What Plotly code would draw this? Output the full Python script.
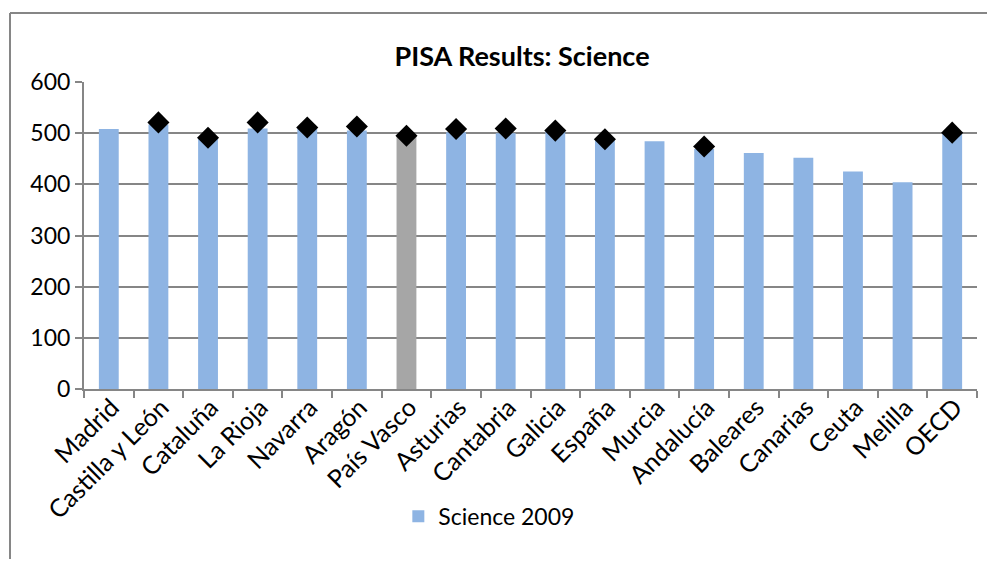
import plotly.graph_objects as go

categories = ["Madrid", "Castilla y León", "Cataluña", "La Rioja", "Navarra", "Aragón",
              "País Vasco", "Asturias", "Cantabria", "Galicia", "España", "Murcia",
              "Andalucía", "Baleares", "Canarias", "Ceuta", "Melilla", "OECD"]
science_2009 = [508, 517, 490, 509, 509, 505, 495, 502, 500, 504, 488, 484, 469, 461, 452, 425, 404, 501]
science_2006 = [None, 521, 491, 521, 511, 513, 495, 508, 509, 505, 488, None, 474, None, None, None, None, 501]
y_ticks = [0, 100, 200, 300, 400, 500, 600]

BLUE = "#8EB4E3"
GRAY = "#A6A6A6"
bar_colors = [GRAY if c == "País Vasco" else BLUE for c in categories]
FONT = "Lato"

# page body has an 8px margin: compensate so the plot area lands where the reference has it
OFF = 8
W, H = 995 - 2 * OFF, 567 - 2 * OFF
L, T, PW, PH = 84 - OFF, 82 - OFF, 893, 307

fig = go.Figure()
fig.add_trace(go.Bar(
    x=categories, y=science_2009, name="Science 2009",
    marker=dict(color=bar_colors, line=dict(width=0)),
    showlegend=True,
))
fig.add_trace(go.Scatter(
    x=categories, y=science_2006, mode="markers", name="Science 2006",
    marker=dict(symbol="diamond", size=17, color="black", line=dict(width=0)),
    showlegend=False,
))

fig.update_layout(
    width=W, height=H,
    margin=dict(l=L, r=W - L - PW, t=T, b=H - T - PH),
    paper_bgcolor="white", plot_bgcolor="white",
    font=dict(family=FONT, size=23, color="black"),
    title=dict(text="<b>PISA Results: Science</b>", x=(522 - 84) / 893, xref="paper", xanchor="center",
               y=1 - (57 - OFF) / H, yref="container", yanchor="middle",
               font=dict(family=FONT, size=27, color="black")),
    bargap=0.6,
    showlegend=True,
    legend=dict(orientation="h", x=0.352, xanchor="left", y=-0.345, yanchor="top",
                font=dict(family=FONT, size=23), bgcolor="rgba(0,0,0,0)",
                itemwidth=30, tracegroupgap=0),
    xaxis=dict(type="category", range=[-0.5, len(categories) - 0.5],
               showline=True, linecolor="#868686", linewidth=2,
               ticks="outside", tickson="boundaries", ticklen=7, tickcolor="#868686",
               tickwidth=2, tickangle=-45, showgrid=False, automargin=False,
               ticklabelshift=3, ticklabelstandoff=-8,
               tickfont=dict(family=FONT, size=25, color="black")),
    yaxis=dict(range=[0, 600], tickvals=y_ticks, showline=True, linecolor="#868686",
               linewidth=2, ticks="outside", ticklen=7, tickcolor="#868686", tickwidth=2,
               showgrid=True, gridcolor="#868686", gridwidth=2, zeroline=False,
               automargin=False,
               tickfont=dict(family=FONT, size=23, color="black")),
)

# outer chart border (top and left edges visible), kept inside the figure
x_left = (10 - 84) / PW
x_right = (W - L) / PW
y_top = (389 - 13) / PH
y_bot = -(H - T - PH) / PH
fig.add_shape(type="line", xref="paper", yref="paper",
              x0=x_left, x1=x_right, y0=y_top, y1=y_top,
              line=dict(color="#868686", width=2))
fig.add_shape(type="line", xref="paper", yref="paper",
              x0=x_left, x1=x_left, y0=y_top, y1=y_bot,
              line=dict(color="#868686", width=2))

fig.write_html("out.html", config={"displayModeBar": False})
